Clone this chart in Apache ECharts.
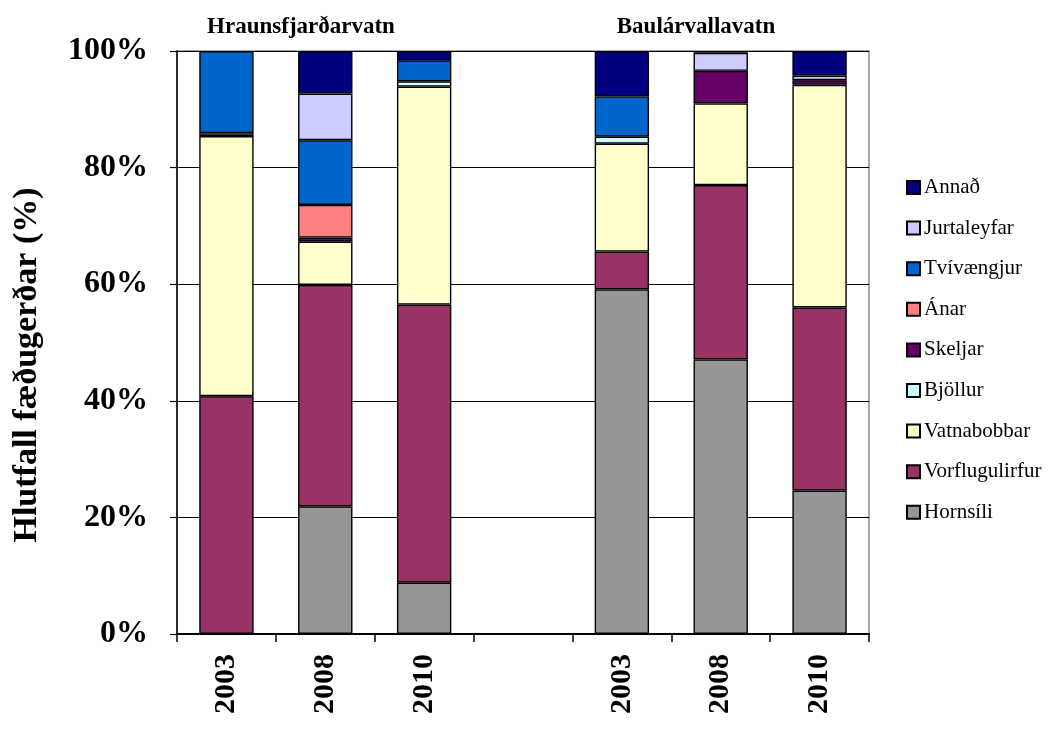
<!DOCTYPE html>
<html>
<head>
<meta charset="utf-8">
<title>Hlutfall fæðugerðar</title>
<script src="https://cdn.jsdelivr.net/npm/echarts@6/dist/echarts.min.js"></script>
<style>
  html, body { margin: 0; padding: 0; background: #ffffff; }
  #chart { width: 1054px; height: 731px; }
</style>
</head>
<body>
<div id="chart"></div>
<script>
// Categories: three sampling years per lake, with an empty slot between the lakes
const categories = ['2003', '2008', '2010', '', '2003', '2008', '2010'];
const lakes = ['Hraunsfjarðarvatn', 'Baulárvallavatn'];
const yTicks = [0, 20, 40, 60, 80, 100];

// Diet share (%) per food type, in stacking order from the bottom
const hornsili        = [0,    21.9, 8.8,  null, 59.1, 47.1, 24.6];
const vorflugulirfur  = [40.8, 38.0, 47.7, null, 6.5,  29.9, 31.4];
const vatnabobbar     = [44.6, 7.4,  37.4, null, 18.5, 14.0, 38.2];
const bjollur         = [0.5,  0,    0.9,  null, 1.2,  0,    0];
const skeljar         = [0,    0.7,  0,    null, 0,    5.6,  0.8];
const anar            = [0,    5.6,  0,    null, 0,    0,    0];
const tvivaengjur     = [14.1, 11.1, 3.6,  null, 6.9,  0,    0];
const jurtaleyfar     = [0,    8.0,  0,    null, 0,    3.1,  0.8];
const annad           = [0,    7.3,  1.6,  null, 7.8,  0.3,  4.2];

const seriesDefs = [
  { name: 'Hornsíli',       data: hornsili,       color: '#969696' },
  { name: 'Vorflugulirfur', data: vorflugulirfur, color: '#993366' },
  { name: 'Vatnabobbar',    data: vatnabobbar,    color: '#FFFFCC' },
  { name: 'Bjöllur',        data: bjollur,        color: '#CCFFFF' },
  { name: 'Skeljar',        data: skeljar,        color: '#660066' },
  { name: 'Ánar',           data: anar,           color: '#FF8080' },
  { name: 'Tvívængjur',     data: tvivaengjur,    color: '#0066CC' },
  { name: 'Jurtaleyfar',    data: jurtaleyfar,    color: '#CCCCFF' },
  { name: 'Annað',          data: annad,          color: '#000080' }
];

const FONT = "'Liberation Serif', 'Times New Roman', serif";

const chart = echarts.init(document.getElementById('chart'), null, { renderer: 'canvas' });

const series = seriesDefs.map(s => ({
  name: s.name,
  type: 'bar',
  stack: 'total',
  barWidth: '55%',
  // zero shares are left out so no empty outline is drawn
  data: s.data.map(v => (v === 0 ? null : v)),
  itemStyle: { color: s.color, borderColor: '#000000', borderWidth: 1.4 },
  emphasis: { disabled: true },
  animation: false
}));

chart.setOption({
  animation: false,
  backgroundColor: '#ffffff',
  grid: {
    left: 177, right: 185, top: 51, bottom: 97,
    show: true, borderColor: '#8c8c8c', borderWidth: 1.5, backgroundColor: 'transparent'
  },
  legend: {
    orient: 'vertical',
    left: 901,
    top: 172,
    data: seriesDefs.map(s => s.name).reverse(),
    itemWidth: 13,
    itemHeight: 13,
    itemGap: 19.6,
    icon: 'rect',
    selectedMode: false,
    textStyle: { fontFamily: FONT, fontSize: 21, color: '#000000', lineHeight: 20, padding: [0, 0, 0, -1] }
  },
  xAxis: {
    type: 'category',
    data: categories,
    axisLine: { show: true, lineStyle: { color: '#000000', width: 2 } },
    axisTick: { show: true, length: 8, alignWithLabel: false, interval: 0, lineStyle: { color: '#000000', width: 1.5 } },
    axisLabel: {
      interval: 0, rotate: 90, margin: 20,
      fontFamily: FONT, fontSize: 30, fontWeight: 'bold', color: '#000000'
    },
    splitLine: { show: false }
  },
  yAxis: {
    type: 'value',
    min: yTicks[0],
    max: yTicks[yTicks.length - 1],
    interval: yTicks[1] - yTicks[0],
    axisLine: { show: true, lineStyle: { color: '#000000', width: 1.5 } },
    axisTick: { show: true, inside: false, length: 7, lineStyle: { color: '#000000', width: 1.2 } },
    axisLabel: {
      formatter: '{value}%', margin: 29,
      fontFamily: FONT, fontSize: 32, fontWeight: 'bold', color: '#000000'
    },
    splitLine: { show: true, lineStyle: { color: '#000000', width: 1.2 } }
  },
  graphic: [
    {
      type: 'text', x: 27, y: 365, rotation: Math.PI / 2,
      style: {
        text: 'Hlutfall fæðugerðar (%)', fontFamily: FONT, fontSize: 34, fontWeight: 'bold',
        fill: '#000000', textAlign: 'center', textVerticalAlign: 'middle'
      }
    },
    {
      type: 'text', x: 301, y: 27,
      style: {
        text: lakes[0], fontFamily: FONT, fontSize: 23, fontWeight: 'bold',
        fill: '#000000', textAlign: 'center', textVerticalAlign: 'middle'
      }
    },
    {
      type: 'text', x: 696, y: 27,
      style: {
        text: lakes[1], fontFamily: FONT, fontSize: 23, fontWeight: 'bold',
        fill: '#000000', textAlign: 'center', textVerticalAlign: 'middle'
      }
    }
  ],
  series: series
});
</script>
</body>
</html>
